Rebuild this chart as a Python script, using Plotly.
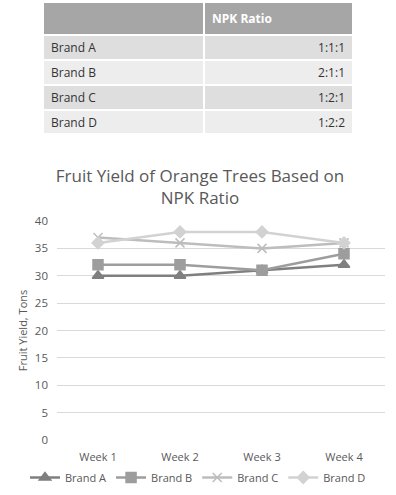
import plotly.graph_objects as go

brands = ["Brand A", "Brand B", "Brand C", "Brand D"]
npk_ratios = ["1:1:1", "2:1:1", "1:2:1", "1:2:2"]
weeks = ["Week 1", "Week 2", "Week 3", "Week 4"]
brand_a = [30, 30, 31, 32]
brand_b = [32, 32, 31, 34]
brand_c = [37, 36, 35, 36]
brand_d = [36, 38, 38, 36]
y_ticks = [0, 5, 10, 15, 20, 25, 30, 35, 40]

FONT = "Open Sans"
fig = go.Figure()

fig.add_trace(go.Table(
    domain=dict(x=[43/396, 353/396], y=[1-134/495, 1-2/495]),
    columnwidth=[161, 149],
    header=dict(values=["", "<b>NPK Ratio</b>"],
                fill_color="#a6a6a6", line=dict(color="white", width=2),
                align=["left", "left"], height=28,
                font=dict(family=FONT, size=12, color="white")),
    cells=dict(values=[brands, npk_ratios],
               fill_color=[["#dedede", "#ededed", "#dedede", "#ededed"]]*2,
               line=dict(color="white", width=2),
               align=["left", "right"], height=25,
               font=dict(family=FONT, size=12, color="#333333")),
))

series = [
    ("Brand A", brand_a, "#7f7f7f", "triangle-up", 10),
    ("Brand B", brand_b, "#9d9d9d", "square", 10),
    ("Brand C", brand_c, "#bdbdbd", "x-thin-open", 9),
    ("Brand D", brand_d, "#d2d2d2", "diamond", 9),
]
for name, vals, col, sym, sz in series:
    fig.add_trace(go.Scatter(
        x=weeks, y=vals, name=name, mode="lines+markers",
        line=dict(color=col, width=2.5),
        marker=dict(symbol=sym, size=sz, color=col, line=dict(color=col, width=1.5)),
    ))

fig.update_layout(
    width=396, height=495,
    margin=dict(l=0, r=0, t=0, b=0, autoexpand=False),
    paper_bgcolor="white", plot_bgcolor="white",
    font=dict(family=FONT, size=11, color="#595959"),
    title=dict(text="Fruit Yield of Orange Trees Based on<br>NPK Ratio",
               x=0.505, xanchor="center", y=1-182/495, yanchor="top",
               font=dict(family=FONT, size=17, color="#595959")),
    xaxis=dict(domain=[57/396, 385/396], range=[-0.5, 3.5], showgrid=False,
               showline=False, ticks="", automargin=False,
               ticklabelstandoff=9,
               tickfont=dict(size=11, color="#595959")),
    yaxis=dict(domain=[1-440/495, 1-221/495], range=[0, 40],
               tickvals=y_ticks, showgrid=True, gridcolor="#d9d9d9",
               gridwidth=1, zeroline=False, showline=False, ticks="",
               ticklabelstandoff=8, automargin=False,
               tickfont=dict(size=11.5, color="#595959"),
               title=dict(text="Fruit Yield, Tons", standoff=4,
                          font=dict(size=11, color="#595959"))),
    legend=dict(orientation="h", x=0.5, xanchor="center", y=1-463/495,
                yanchor="top", font=dict(size=11, color="#595959"),
                itemwidth=30, tracegroupgap=0),
    showlegend=True,
)

fig.write_html("out.html", config={"displayModeBar": False},
               post_script="document.body.style.margin='0';")
